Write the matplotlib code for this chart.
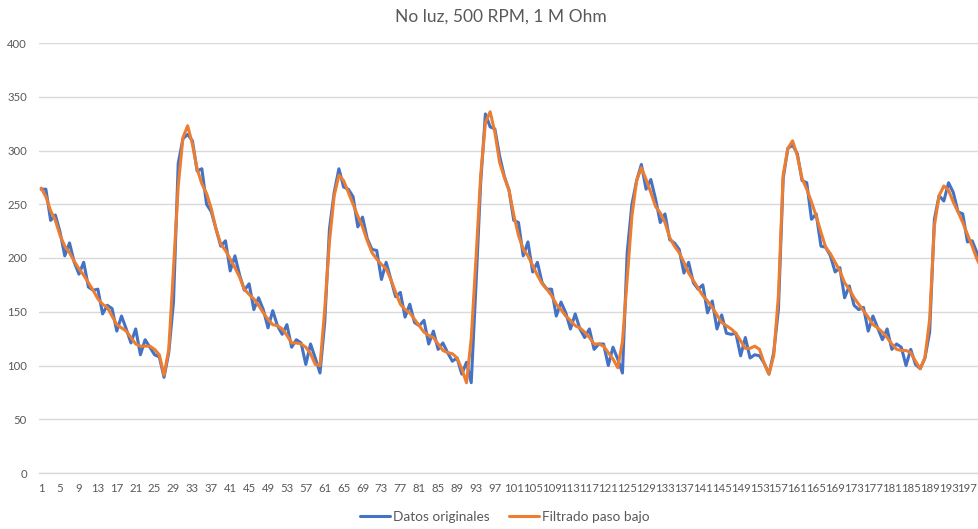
import matplotlib
matplotlib.use("Agg")
import matplotlib.pyplot as plt

# Sample index (category axis) and the two measured series
categories = list(range(1, 201))

datos_originales = [
    264, 264, 235, 240, 224, 202, 214, 196, 185, 196,
    173, 170, 171, 148, 156, 153, 132, 146, 134, 121,
    134, 110, 124, 117, 110, 108, 89, 112, 159, 288,
    311, 315, 309, 281, 283, 250, 243, 227, 211, 216,
    188, 202, 184, 170, 176, 152, 163, 152, 135, 151,
    137, 129, 138, 117, 124, 121, 101, 120, 107, 93,
    140, 227, 261, 283, 266, 264, 257, 229, 238, 218,
    208, 207, 180, 196, 180, 164, 168, 145, 157, 140,
    137, 142, 120, 132, 115, 121, 112, 104, 107, 92,
    103, 84, 174, 270, 334, 322, 320, 295, 276, 263,
    235, 233, 202, 215, 187, 196, 177, 171, 171, 146,
    159, 149, 134, 148, 134, 126, 134, 115, 120, 120,
    100, 117, 106, 93, 205, 250, 272, 287, 264, 273,
    255, 233, 241, 217, 214, 208, 186, 196, 177, 171,
    175, 149, 160, 134, 147, 130, 129, 130, 109, 126,
    107, 110, 109, 102, 92, 112, 152, 274, 302, 305,
    297, 272, 270, 236, 241, 211, 210, 202, 187, 191,
    163, 174, 156, 152, 154, 132, 146, 135, 124, 134,
    115, 120, 117, 100, 115, 101, 97, 107, 131, 236,
    258, 253, 270, 261, 243, 241, 215, 216, 205, 195,
]

filtrado_paso_bajo = [
    265, 257, 244, 235, 221, 211, 205, 197, 190, 184,
    177, 170, 162, 157, 154, 146, 138, 135, 132, 126,
    120, 118, 118, 118, 115, 110, 91, 115, 190, 267,
    312, 323, 306, 283, 269, 260, 246, 227, 213, 207,
    199, 191, 182, 171, 166, 162, 156, 149, 143, 138,
    137, 134, 128, 121, 121, 120, 117, 111, 101, 100,
    152, 215, 258, 277, 272, 261, 250, 239, 229, 216,
    205, 199, 194, 190, 180, 168, 157, 152, 149, 143,
    137, 131, 128, 126, 120, 114, 112, 111, 107, 97,
    84, 125, 199, 277, 326, 336, 317, 289, 275, 263,
    240, 221, 208, 202, 193, 184, 176, 171, 165, 157,
    152, 146, 142, 137, 135, 131, 126, 120, 120, 118,
    112, 106, 98, 122, 180, 239, 272, 284, 273, 261,
    248, 242, 233, 219, 211, 205, 196, 186, 179, 172,
    165, 160, 154, 147, 140, 137, 134, 130, 123, 116,
    116, 118, 115, 102, 92, 109, 165, 277, 302, 309,
    295, 274, 264, 252, 239, 224, 210, 204, 196, 188,
    177, 171, 163, 157, 151, 145, 138, 135, 131, 126,
    120, 115, 114, 114, 112, 104, 97, 107, 143, 230,
    258, 267, 263, 252, 243, 233, 222, 211, 199, 190,
]

y_ticks = [0, 50, 100, 150, 200, 250, 300, 350, 400]
x_tick_values = categories[::4]
x_tick_labels = [str(v) for v in x_tick_values]

title = "No luz, 500 RPM, 1 M Ohm"
series_names = ["Datos originales", "Filtrado paso bajo"]

BLUE = "#4472C4"
ORANGE = "#ED7D31"
TEXT = "#595959"
GRID = "#D9D9D9"

plt.rcParams["font.family"] = ["Lato", "DejaVu Sans"]

W, H = 979, 529
fig = plt.figure(figsize=(W / 100, H / 100), dpi=100)
left_px, right_px = 38.8, 984.0
bottom_px, top_px = 473.0, 43.0
ax = fig.add_axes([left_px / W, 1 - bottom_px / H,
                   (right_px - left_px) / W, (bottom_px - top_px) / H])

line_kw = dict(linewidth=2.2, solid_joinstyle="round", solid_capstyle="round")
ax.plot(categories, datos_originales, color=BLUE, label=series_names[0],
        zorder=3, **line_kw)
ax.plot(categories, filtrado_paso_bajo, color=ORANGE, label=series_names[1],
        zorder=4, **line_kw)

ax.set_xlim(0.5, len(categories) + 0.5)
ax.set_ylim(0, 400)
ax.set_yticks(y_ticks)
ax.set_xticks(x_tick_values)
ax.set_xticklabels(x_tick_labels)

ax.grid(axis="y", color=GRID, linewidth=1.0, zorder=0)
ax.grid(axis="x", visible=False)
for side in ("top", "right", "left"):
    ax.spines[side].set_visible(False)
ax.spines["bottom"].set_color(GRID)
ax.spines["bottom"].set_linewidth(1.0)

ax.tick_params(axis="both", length=0, colors=TEXT, labelsize=8.2)
ax.tick_params(axis="y", pad=8.5)
ax.tick_params(axis="x", pad=7.0)

fig.text(501 / W, 1 - 17 / H, title, ha="center", va="center",
         fontsize=12.5, color=TEXT)

fig.legend(loc="center", bbox_to_anchor=(505 / W, 12 / H), ncol=2,
           frameon=False, fontsize=9.8, labelcolor=TEXT,
           handlelength=2.2, handletextpad=0.25, columnspacing=1.4)

fig.savefig("out.png", dpi=100)
